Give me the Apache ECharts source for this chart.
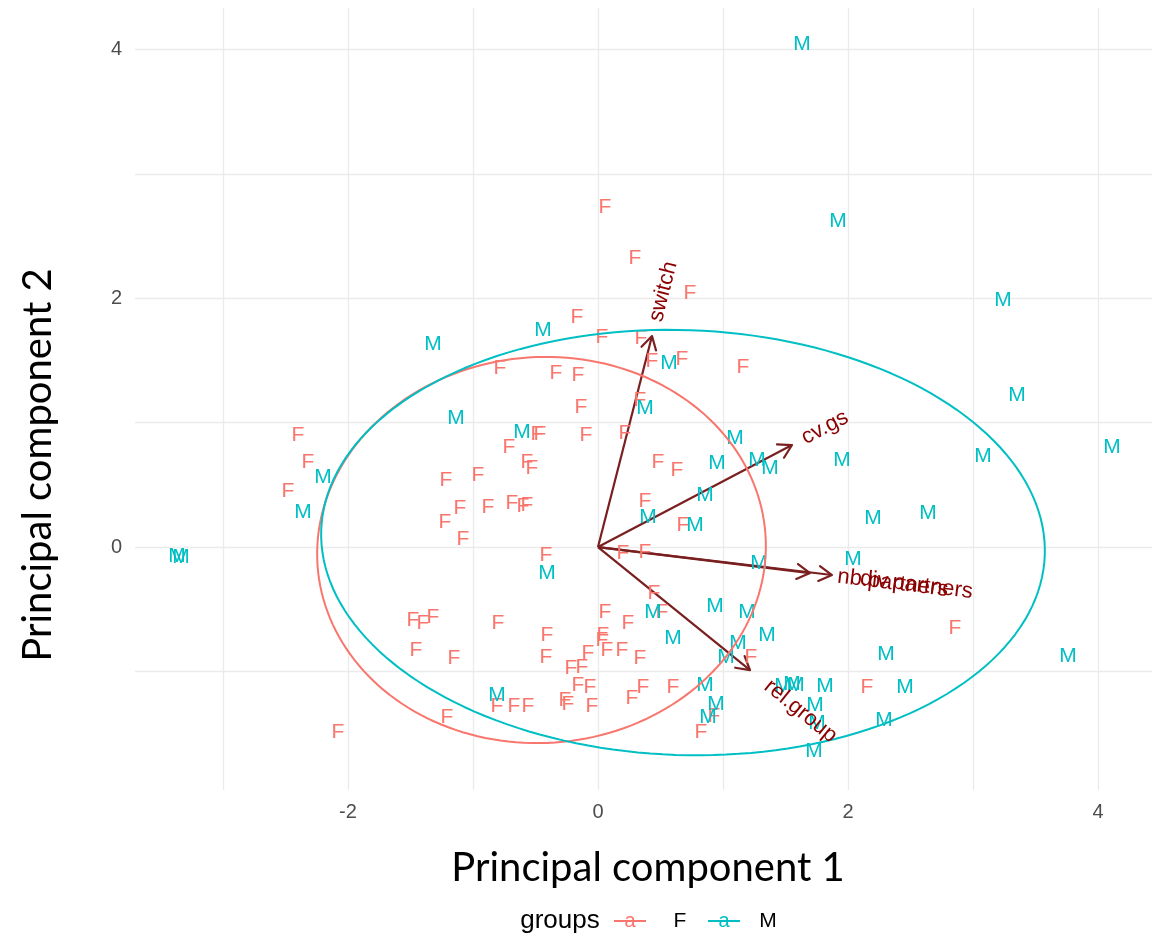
<!DOCTYPE html>
<html>
<head>
<meta charset="utf-8">
<script src="https://cdn.jsdelivr.net/npm/echarts@6/dist/echarts.min.js"></script>
<style>
  html, body { margin: 0; padding: 0; background: #ffffff; }
  #chart { width: 1152px; height: 938px; }
</style>
</head>
<body>
<div id="chart"></div>
<script>
// ---- PCA scores (PC1, PC2) per group ----
const scoresF = [
  [0.056, 2.733], [0.296, 2.323], [0.736, 2.042], [-0.168, 1.849], [0.032, 1.688],
  [0.344, 1.680], [0.432, 1.495], [0.672, 1.511], [1.160, 1.447], [-0.784, 1.439],
  [-0.336, 1.399], [-0.160, 1.383], [-0.136, 1.125], [-0.096, 0.900], [0.216, 0.916],
  [0.336, 1.182], [-0.488, 0.908], [-0.464, 0.908], [-0.712, 0.804], [-0.568, 0.683],
  [-0.528, 0.635], [-1.216, 0.539], [-0.960, 0.579], [-0.880, 0.322], [-0.688, 0.354],
  [-0.600, 0.330], [-0.568, 0.338], [-1.104, 0.314], [-1.224, 0.201], [-1.080, 0.064],
  [-0.416, -0.064], [-2.400, 0.900], [-2.320, 0.683], [-2.480, 0.450], [-2.080, -1.487],
  [-1.480, -0.587], [-1.400, -0.611], [-1.320, -0.563], [-1.456, -0.828], [-1.152, -0.892],
  [-0.800, -0.611], [-0.408, -0.707], [-0.416, -0.884], [-0.216, -0.973], [-0.128, -0.965],
  [-0.080, -0.852], [-0.160, -1.109], [-0.064, -1.125], [-0.264, -1.230], [-0.240, -1.262],
  [-0.048, -1.278], [-0.672, -1.278], [-0.560, -1.278], [-0.808, -1.278], [-1.208, -1.367],
  [0.200, -0.048], [0.376, -0.040], [0.448, -0.370], [0.512, -0.523], [0.056, -0.523],
  [0.240, -0.611], [0.040, -0.707], [0.032, -0.748], [0.072, -0.828], [0.192, -0.828],
  [0.336, -0.892], [0.360, -1.125], [0.272, -1.214], [0.600, -1.125], [1.224, -0.884],
  [0.928, -1.359], [0.824, -1.487], [2.152, -1.125], [2.856, -0.651], [0.480, 0.683],
  [0.632, 0.619], [0.376, 0.370], [0.680, 0.177]
];
const scoresM = [
  [1.632, 4.043], [1.920, 2.621], [3.240, 1.986], [3.352, 1.222], [4.112, 0.804],
  [3.080, 0.732], [1.952, 0.699], [2.640, 0.273], [2.200, 0.233], [2.040, -0.096],
  [3.760, -0.876], [2.304, -0.860], [2.456, -1.125], [2.288, -1.391], [1.816, -1.117],
  [1.480, -1.117], [1.552, -1.101], [1.584, -1.109], [1.736, -1.270], [1.752, -1.415],
  [1.728, -1.640], [0.856, -1.109], [0.944, -1.262], [0.880, -1.367], [0.936, -0.474],
  [1.192, -0.523], [1.352, -0.707], [1.120, -0.772], [1.024, -0.884], [0.600, -0.732],
  [0.440, -0.523], [1.288, -0.129], [0.776, 0.177], [0.856, 0.418], [0.400, 0.241],
  [0.952, 0.675], [1.272, 0.699], [1.376, 0.635], [1.096, 0.876], [0.376, 1.117],
  [0.568, 1.479], [-0.440, 1.744], [-1.320, 1.632], [-1.136, 1.037], [-0.608, 0.924],
  [-2.200, 0.563], [-2.360, 0.281], [-3.368, -0.072], [-3.336, -0.080], [-0.408, -0.209],
  [-0.808, -1.190]
];

// ---- variable loadings (arrow tips) ----
const loadingNames = ['switch', 'cv.gs', 'nb.partners', 'div.partners', 'rel.group'];
const loadingPC1   = [0.432, 1.552, 1.696, 1.872, 1.216];
const loadingPC2   = [1.696, 0.820, -0.209, -0.225, -0.989];

// ---- concentration ellipses: centre, semi-axes, tilt (degrees) ----
const ellipseF = { center: [-0.452, -0.024], radii: [1.796, 1.551], tilt: 4 };
const ellipseM = { center: [0.680, 0.036], radii: [2.896, 1.708], tilt: -2 };

// ---- axes ----
const xRange = [-3.704, 4.432];
const yRange = [-1.953, 4.333];
const xGridTicks = [-3, -2, -1, 0, 1, 2, 3, 4];
const xLabelTicks = [-2, 0, 2, 4];
const yGridTicks = [-1, 0, 1, 2, 3, 4];
const yLabelTicks = [0, 2, 4];

const groupNames = ['F', 'M'];
const colF = '#F8766D';
const colM = '#00BFC4';
const arrowColor = '#7A1F1F';
const varLabelColor = '#8B0000';
const SANS = '"Liberation Sans", Arial, sans-serif';
const POINT_FONT = '21px ' + SANS;
const VAR_FONT = '22px ' + SANS;
const TITLE_FONT = 'Lato, "Liberation Sans", sans-serif';

const measureCtx = document.createElement('canvas').getContext('2d');
function textWidth(str, font) {
  measureCtx.font = font;
  return measureCtx.measureText(str).width;
}

function ellipsePath(e) {
  const t = e.tilt * Math.PI / 180;
  const pts = [];
  for (let i = 0; i <= 180; i++) {
    const u = 2 * Math.PI * i / 180;
    const ex = e.radii[0] * Math.cos(u);
    const ey = e.radii[1] * Math.sin(u);
    pts.push([
      e.center[0] + ex * Math.cos(t) - ey * Math.sin(t),
      e.center[1] + ex * Math.sin(t) + ey * Math.cos(t)
    ]);
  }
  return pts;
}

function letterSeries(name, data, color) {
  return {
    name: name,
    type: 'custom',
    coordinateSystem: 'cartesian2d',
    data: data,
    z: 3,
    silent: true,
    renderItem: function (params, api) {
      const p = api.coord([api.value(0), api.value(1)]);
      return {
        type: 'text',
        x: p[0], y: p[1],
        style: { text: name, fill: color, font: POINT_FONT, align: 'center', verticalAlign: 'middle' }
      };
    }
  };
}

const loadingData = loadingNames.map((n, i) => [loadingPC1[i], loadingPC2[i], i]);

const chart = echarts.init(document.getElementById('chart'), null, { renderer: 'canvas' });

chart.setOption({
  animation: false,
  backgroundColor: '#ffffff',
  grid: { left: 135, right: 0, top: 8, bottom: 148, containLabel: false },
  xAxis: {
    type: 'value', min: xRange[0], max: xRange[1],
    axisLine: { show: false },
    axisTick: { show: false, customValues: xGridTicks },
    axisLabel: { customValues: xLabelTicks, color: '#4D4D4D', fontSize: 20, margin: 12, fontFamily: SANS },
    splitLine: { show: true, lineStyle: { color: '#EBEBEB', width: 1.3 } }
  },
  yAxis: {
    type: 'value', min: yRange[0], max: yRange[1],
    axisLine: { show: false },
    axisTick: { show: false, customValues: yGridTicks },
    axisLabel: { customValues: yLabelTicks, color: '#4D4D4D', fontSize: 20, margin: 13, fontFamily: SANS },
    splitLine: { show: true, lineStyle: { color: '#EBEBEB', width: 1.3 } }
  },
  series: [
    // loading arrows
    {
      type: 'custom', coordinateSystem: 'cartesian2d', data: loadingData, z: 2, silent: true,
      renderItem: function (params, api) {
        const o = api.coord([0, 0]);
        const t = api.coord([api.value(0), api.value(1)]);
        const ang = Math.atan2(t[1] - o[1], t[0] - o[0]);
        const L = 15, spread = Math.PI / 6;
        const a1 = [t[0] - L * Math.cos(ang - spread), t[1] - L * Math.sin(ang - spread)];
        const a2 = [t[0] - L * Math.cos(ang + spread), t[1] - L * Math.sin(ang + spread)];
        return {
          type: 'group',
          children: [
            { type: 'line', shape: { x1: o[0], y1: o[1], x2: t[0], y2: t[1] },
              style: { stroke: arrowColor, lineWidth: 2.2 } },
            { type: 'polyline', shape: { points: [a1, t, a2] },
              style: { stroke: arrowColor, lineWidth: 2.2, fill: null, lineJoin: 'round', lineCap: 'round' } }
          ]
        };
      }
    },
    letterSeries('F', scoresF, colF),
    letterSeries('M', scoresM, colM),
    {
      name: 'F', type: 'line', data: ellipsePath(ellipseF), showSymbol: false, z: 4, silent: true,
      lineStyle: { color: colF, width: 2 }, itemStyle: { color: colF }
    },
    {
      name: 'M', type: 'line', data: ellipsePath(ellipseM), showSymbol: false, z: 4, silent: true,
      lineStyle: { color: colM, width: 2 }, itemStyle: { color: colM }
    },
    // variable names along the arrows
    {
      type: 'custom', coordinateSystem: 'cartesian2d', data: loadingData, z: 5, silent: true,
      renderItem: function (params, api) {
        const i = api.value(2);
        const name = loadingNames[i];
        const t = api.coord([api.value(0), api.value(1)]);
        const ang = Math.atan2(api.value(1), api.value(0));
        const w = textWidth(name, VAR_FONT);
        return {
          type: 'text', x: t[0], y: t[1], rotation: ang,
          style: { text: name, x: 0.25 * w, y: 0, fill: varLabelColor, font: VAR_FONT,
                   align: 'left', verticalAlign: 'middle' }
        };
      }
    }
  ],
  graphic: [
    { type: 'text', x: 648, y: 868,
      style: { text: 'Principal component 1', font: '40px ' + TITLE_FONT, fill: '#000000',
               align: 'center', verticalAlign: 'middle' } },
    { type: 'text', x: 38, y: 465, rotation: Math.PI / 2,
      style: { text: 'Principal component 2', font: '40px ' + TITLE_FONT, fill: '#000000',
               align: 'center', verticalAlign: 'middle' } },
    // legend
    { type: 'group', children: [
      { type: 'text', x: 560, y: 921,
        style: { text: 'groups', font: '26px ' + SANS, fill: '#000000', align: 'center', verticalAlign: 'middle' } },
      { type: 'line', shape: { x1: 614, y1: 921, x2: 646, y2: 921 }, style: { stroke: colF, lineWidth: 2 } },
      { type: 'text', x: 630, y: 921,
        style: { text: 'a', font: '20px ' + SANS, fill: colF, align: 'center', verticalAlign: 'middle' } },
      { type: 'text', x: 680, y: 921,
        style: { text: groupNames[0], font: '21px ' + SANS, fill: '#000000', align: 'center', verticalAlign: 'middle' } },
      { type: 'line', shape: { x1: 708, y1: 921, x2: 740, y2: 921 }, style: { stroke: colM, lineWidth: 2 } },
      { type: 'text', x: 724, y: 921,
        style: { text: 'a', font: '20px ' + SANS, fill: colM, align: 'center', verticalAlign: 'middle' } },
      { type: 'text', x: 768, y: 921,
        style: { text: groupNames[1], font: '21px ' + SANS, fill: '#000000', align: 'center', verticalAlign: 'middle' } }
    ] }
  ]
});
</script>
</body>
</html>
